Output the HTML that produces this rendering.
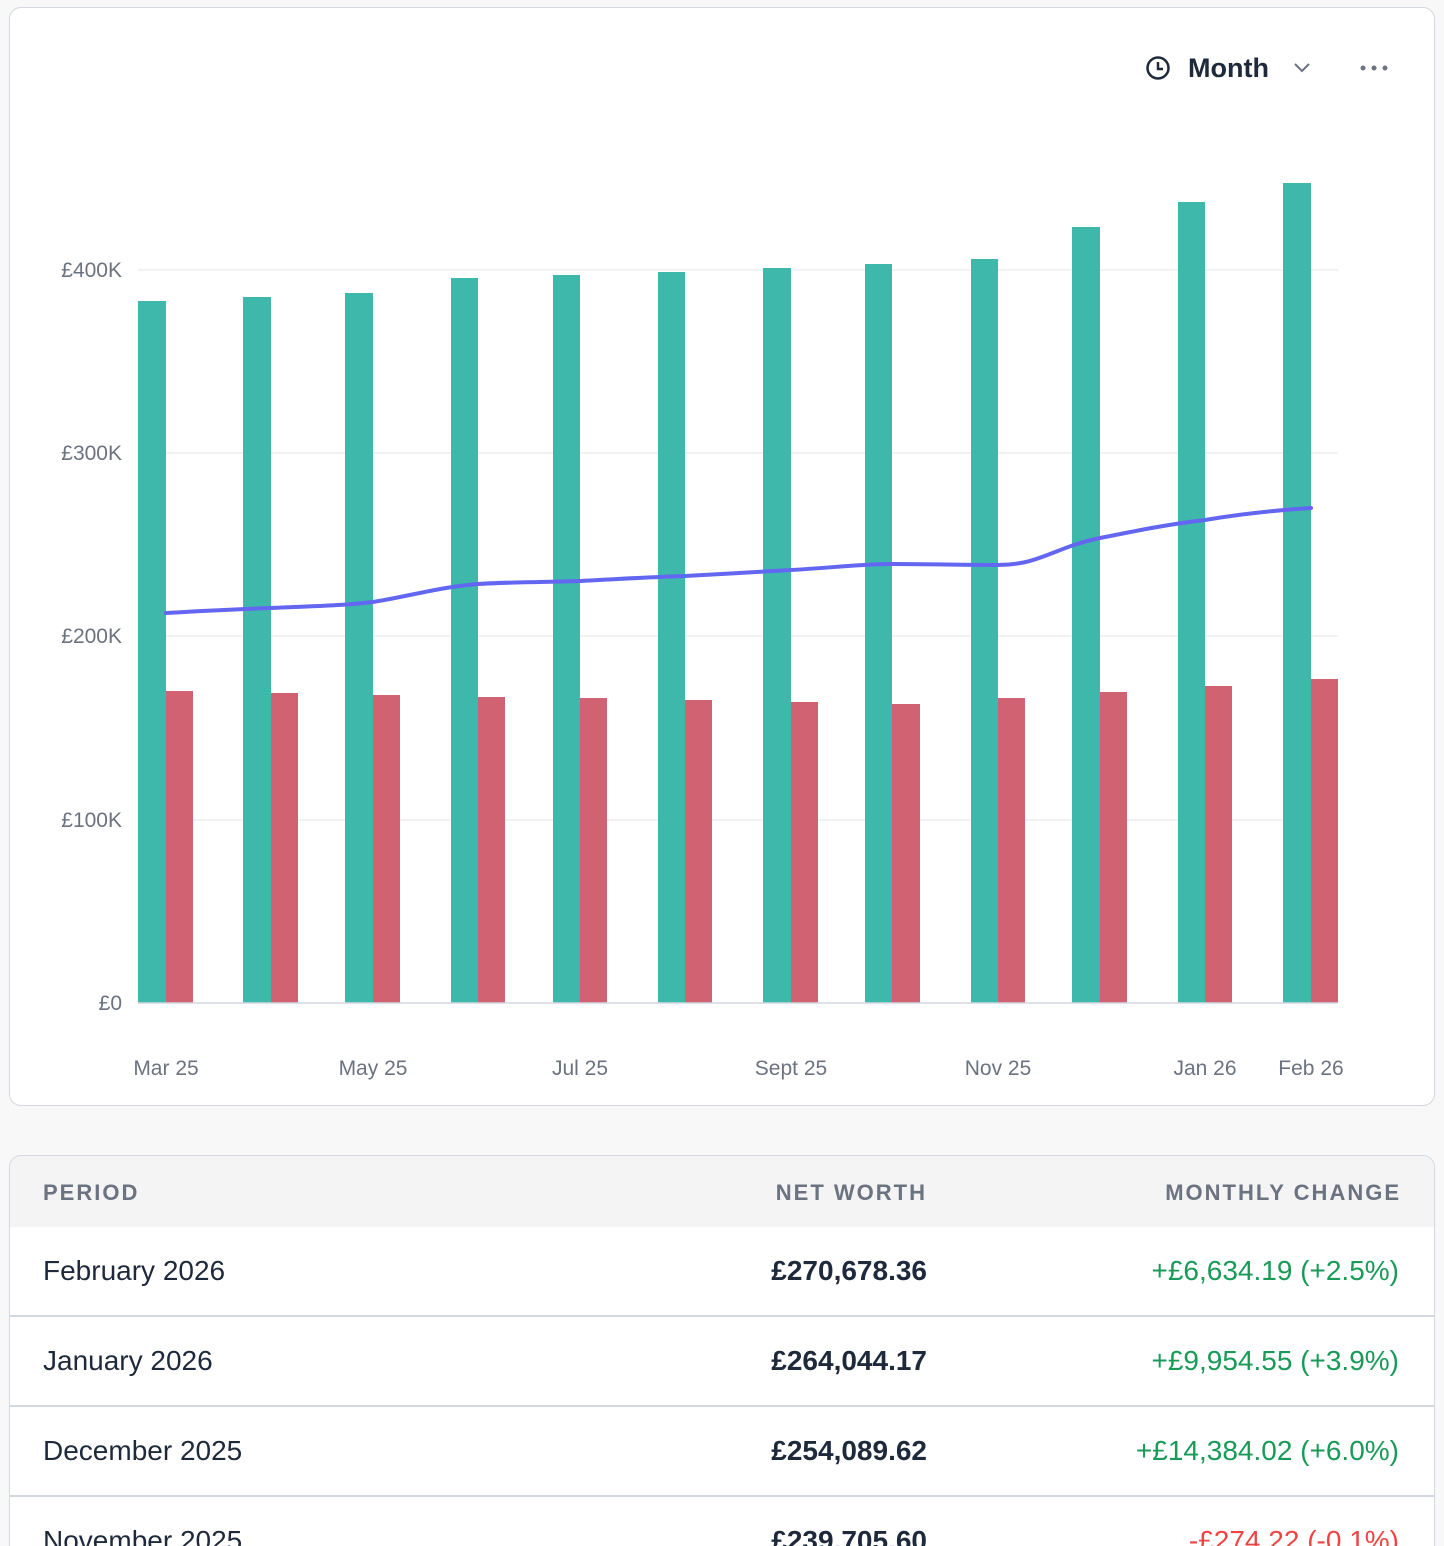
<!DOCTYPE html>
<html style="overflow:hidden;width:1444px;height:1546px"><head><style>
body{margin:0;width:1444px;height:1546px;background:#f8f8f8;font-family:"Liberation Sans",sans-serif;overflow:hidden;position:relative}
.card{position:absolute;left:9px;width:1426px;background:#fff;border:1.5px solid #d3d7df;border-radius:12px;box-sizing:border-box}
.t{position:absolute;white-space:nowrap}
.row{position:absolute;left:0;width:100%;height:90px;border-bottom:2px solid #d3d7df;box-sizing:border-box;font-size:28px;color:#1e293b}
.row div{position:absolute;top:28px;white-space:nowrap}
.g{color:#1a9a58}.r{color:#ef4444}
</style></head><body>
<div class="card" style="top:7px;height:1099px"></div>
<svg style="position:absolute;left:0;top:0" width="1444" height="1110">
<g stroke="#eceef1" stroke-width="1.5">
<line x1="138" x2="1338" y1="270" y2="270"/><line x1="138" x2="1338" y1="453" y2="453"/><line x1="138" x2="1338" y1="636" y2="636"/><line x1="138" x2="1338" y1="820" y2="820"/>
</g>
<g fill="#3eb8ab">
<rect x="138" y="301" width="28" height="702"/><rect x="243" y="297" width="28" height="706"/><rect x="345" y="293" width="28" height="710"/><rect x="451" y="278" width="27" height="725"/><rect x="553" y="275" width="27" height="728"/><rect x="658" y="272" width="27" height="731"/><rect x="763" y="268" width="28" height="735"/><rect x="865" y="264" width="27" height="739"/><rect x="971" y="259" width="27" height="744"/><rect x="1072" y="227" width="28" height="776"/><rect x="1178" y="202" width="27" height="801"/><rect x="1283" y="183" width="28" height="820"/>
</g>
<g fill="#d06272">
<rect x="166" y="691" width="27" height="312"/><rect x="271" y="693" width="27" height="310"/><rect x="373" y="695" width="27" height="308"/><rect x="478" y="697" width="27" height="306"/><rect x="580" y="698" width="27" height="305"/><rect x="685" y="700" width="27" height="303"/><rect x="791" y="702" width="27" height="301"/><rect x="892" y="704" width="28" height="299"/><rect x="998" y="698" width="27" height="305"/><rect x="1100" y="692" width="27" height="311"/><rect x="1205" y="686" width="27" height="317"/><rect x="1311" y="679" width="27" height="324"/>
</g>
<line x1="138" x2="1338" y1="1003" y2="1003" stroke="#d3d7df" stroke-width="1.5"/>
<path d="M166,613 C200,611 240,609 271,608 C310,606 340,606 373,602 C410,596 440,587 478,584 C510,582 550,582 580,581 C620,579 650,577 685,576 C720,574 760,572 791,570 C830,568 860,564 892,564 C930,564 960,565 998,565 C1040,565 1055,547 1100,538 C1140,530 1170,524 1205,520 C1240,514 1280,510 1311,508" fill="none" stroke="#6366f1" stroke-width="4" stroke-linecap="round"/>
<g font-size="21" fill="#6b7280" text-anchor="end" font-family="Liberation Sans">
<text x="122" y="277">£400K</text><text x="122" y="460">£300K</text><text x="122" y="643">£200K</text><text x="122" y="827">£100K</text><text x="122" y="1010">£0</text>
</g>
<g font-size="21" fill="#6b7280" text-anchor="middle" font-family="Liberation Sans">
<text x="166" y="1075">Mar 25</text><text x="373" y="1075">May 25</text><text x="580" y="1075">Jul 25</text><text x="791" y="1075">Sept 25</text><text x="998" y="1075">Nov 25</text><text x="1205" y="1075">Jan 26</text><text x="1311" y="1075">Feb 26</text>
</g>
<circle cx="1158" cy="68" r="10.5" fill="none" stroke="#1e293b" stroke-width="2.5"/>
<path d="M1158,62 V69 H1163" fill="none" stroke="#1e293b" stroke-width="2.5"/>
<text x="1188" y="77" font-size="27" font-weight="bold" fill="#1e293b" font-family="Liberation Sans">Month</text>
<path d="M1295,64 L1302,71 L1309,64" fill="none" stroke="#6b7280" stroke-width="2"/>
<g fill="#6b7280"><circle cx="1363" cy="68" r="2.5"/><circle cx="1374" cy="68" r="2.5"/><circle cx="1385" cy="68" r="2.5"/></g>
</svg>
<div class="card" style="top:1155px;height:391px;overflow:hidden;border-bottom:none;border-radius:12px 12px 0 0">
<div style="position:absolute;left:0;top:0;width:100%;height:71px;background:#f4f4f5;font-size:22px;font-weight:bold;letter-spacing:2px;color:#6b7280">
<div class="t" style="left:33px;top:24px">PERIOD</div>
<div class="t" style="right:507px;top:24px">NET WORTH</div>
<div class="t" style="right:33px;top:24px">MONTHLY CHANGE</div>
</div>
<div class="row" style="top:71px"><div style="left:33px">February 2026</div><div style="right:507px;font-weight:bold">£270,678.36</div><div class="g" style="right:35px">+£6,634.19 (+2.5%)</div></div>
<div class="row" style="top:161px"><div style="left:33px">January 2026</div><div style="right:507px;font-weight:bold">£264,044.17</div><div class="g" style="right:35px">+£9,954.55 (+3.9%)</div></div>
<div class="row" style="top:251px"><div style="left:33px">December 2025</div><div style="right:507px;font-weight:bold">£254,089.62</div><div class="g" style="right:35px">+£14,384.02 (+6.0%)</div></div>
<div class="row" style="top:341px"><div style="left:33px">November 2025</div><div style="right:507px;font-weight:bold">£239,705.60</div><div class="r" style="right:35px">-£274.22 (-0.1%)</div></div>
</div>
</body></html>
